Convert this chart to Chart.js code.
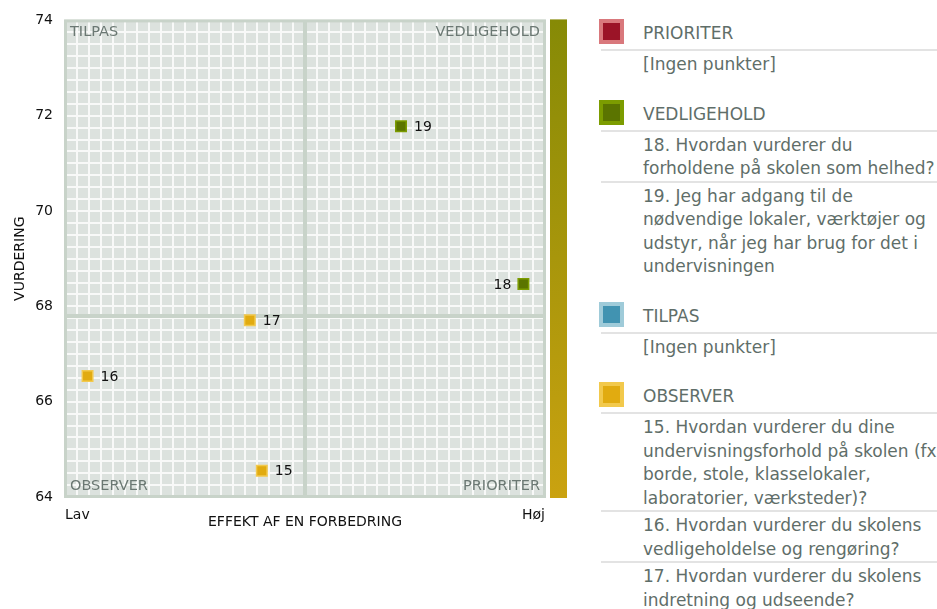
<!DOCTYPE html>
<html>
<head>
<meta charset="utf-8">
<script src="https://cdn.jsdelivr.net/npm/chart.js@4.4.1/dist/chart.umd.min.js"></script>
<style>
  body { margin: 0; width: 937px; height: 609px; overflow: hidden; background: #fff; font-family: "DejaVu Sans", sans-serif; }
  #chartBox { position: absolute; left: 0; top: 0; width: 580px; height: 609px; }
  #legend { position: absolute; left: 599px; top: 14px; width: 360px; color: #5f6e69; font-size: 17px; }
  .grp { margin-bottom: 18px; }
  .head { height: 35px; display: flex; align-items: center; border-bottom: 2px solid #e3e3e3; margin-left: 2px; }
  .head span { padding-top: 3px; }
  .sw { width: 17px; height: 17px; border: 4px solid; margin-left: -2px; margin-right: 19px; }
  .item { padding: 2px 0 0 42px; line-height: 23.5px; white-space: pre; border-bottom: 2px solid #e3e3e3; margin-left: 2px; }
  .item:last-child { border-bottom: none; }
</style>
</head>
<body>

<div id="chartBox"><canvas id="myChart" width="580" height="609"></canvas></div>
<div id="legend"></div>

<script>
// data
const questionNo = [15, 16, 17, 18, 19];
const effekt = [41, 4.7, 38.5, 95.5, 70];          // 0 = Lav, 100 = Høj
const vurdering = [64.55, 66.54, 67.71, 68.47, 71.78];
const questionText = [
  "15. Hvordan vurderer du dine\nundervisningsforhold på skolen (fx\nborde, stole, klasselokaler,\nlaboratorier, værksteder)?",
  "16. Hvordan vurderer du skolens\nvedligeholdelse og rengøring?",
  "17. Hvordan vurderer du skolens\nindretning og udseende?",
  "18. Hvordan vurderer du\nforholdene på skolen som helhed?",
  "19. Jeg har adgang til de\nnødvendige lokaler, værktøjer og\nudstyr, når jeg har brug for det i\nundervisningen"
];
const groups = ["PRIORITER", "VEDLIGEHOLD", "TILPAS", "OBSERVER"];
const xTickLabels = ["Lav", "Høj"];
const xMin = 0, xMax = 100, xSplit = 50;
const yMin = 64, yMax = 74, ySplit = 67.8;
const emptyText = "[Ingen punkter]";

const colors = {
  PRIORITER:   { fill: "#9b1427", edge: "#d9787c" },
  VEDLIGEHOLD: { fill: "#5b7400", edge: "#7c9c00" },
  TILPAS:      { fill: "#4193b1", edge: "#9fcbd9" },
  OBSERVER:    { fill: "#e1ab10", edge: "#f2c94c" }
};

function groupOf(i) {
  const hi = effekt[i] >= xSplit, up = vurdering[i] >= ySplit;
  if (hi && up) return "VEDLIGEHOLD";
  if (hi) return "PRIORITER";
  if (up) return "TILPAS";
  return "OBSERVER";
}

// legend
const legend = document.getElementById("legend");
groups.forEach(g => {
  const idx = questionNo.map((n, i) => i).filter(i => groupOf(i) === g);
  let html = '<div class="grp"><div class="head"><div class="sw" style="background:' + colors[g].fill +
    ';border-color:' + colors[g].edge + '"></div><span>' + g + '</span></div>';
  if (idx.length === 0) html += '<div class="item">' + emptyText + '</div>';
  idx.forEach(i => { html += '<div class="item">' + questionText[i] + '</div>'; });
  legend.innerHTML += html + '</div>';
});

Chart.defaults.font.family = '"DejaVu Sans", sans-serif';
Chart.defaults.font.size = 14;

const datasets = groups.map(g => {
  const idx = questionNo.map((n, i) => i).filter(i => groupOf(i) === g);
  return {
    label: g,
    data: idx.map(i => ({ x: effekt[i], y: vurdering[i] })),
    nums: idx.map(i => questionNo[i]),
    pointStyle: "rect",
    pointRadius: 7.4,
    borderWidth: 1.5,
    backgroundColor: colors[g].fill,
    borderColor: colors[g].edge
  };
});

const quadrants = {
  id: "quadrants",
  beforeDraw(chart) {
    const { ctx, chartArea: a } = chart;
    ctx.save();
    ctx.fillStyle = "#dce2de";
    ctx.fillRect(a.left, a.top, a.width, a.height);
    const grad = ctx.createLinearGradient(0, a.top, 0, a.bottom);
    grad.addColorStop(0, "#868a06");
    grad.addColorStop(1, "#caa210");
    ctx.fillStyle = grad;
    ctx.fillRect(a.right + 5, a.top - 1, 17, a.height + 2);
    ctx.restore();
  },
  beforeDatasetsDraw(chart) {
    const { ctx, chartArea: a, scales } = chart;
    ctx.save();
    ctx.strokeStyle = "#c8d3c9";
    ctx.lineWidth = 3;
    ctx.strokeRect(a.left + 0.5, a.top + 0.5, a.width - 1, a.height - 1);
    ctx.lineWidth = 4;
    const mx = scales.x.getPixelForValue(xSplit), my = scales.y.getPixelForValue(ySplit);
    ctx.beginPath();
    ctx.moveTo(mx, a.top); ctx.lineTo(mx, a.bottom);
    ctx.moveTo(a.left, my); ctx.lineTo(a.right, my);
    ctx.stroke();
    ctx.fillStyle = "#6b7873";
    ctx.font = '14.5px "DejaVu Sans"';
    ctx.textBaseline = "middle";
    ctx.textAlign = "left";
    ctx.fillText(groups[2], a.left + 5, a.top + 12);
    ctx.fillText(groups[3], a.left + 5, a.bottom - 11);
    ctx.textAlign = "right";
    ctx.fillText(groups[1], a.right - 5, a.top + 12);
    ctx.fillText(groups[0], a.right - 5, a.bottom - 11);
    ctx.restore();
  },
  afterDatasetsDraw(chart) {
    const { ctx, chartArea: a } = chart;
    ctx.save();
    ctx.fillStyle = "#111";
    ctx.font = '14px "DejaVu Sans"';
    ctx.textBaseline = "middle";
    chart.data.datasets.forEach((ds, d) => {
      chart.getDatasetMeta(d).data.forEach((pt, i) => {
        if (pt.x > a.right - 60) {
          ctx.textAlign = "right";
          ctx.fillText(ds.nums[i], pt.x - 12, pt.y + 1);
        } else {
          ctx.textAlign = "left";
          ctx.fillText(ds.nums[i], pt.x + 13, pt.y + 1);
        }
      });
    });
    ctx.restore();
  }
};

const myChart = new Chart("myChart", {
  type: "scatter",
  data: { datasets: datasets },
  plugins: [quadrants],
  options: {
    responsive: false,
    animation: false,
    events: [],
    layout: { padding: { top: 20, right: 35, bottom: 72, left: 0 } },
    plugins: { legend: { display: false }, tooltip: { enabled: false } },
    scales: {
      x: {
        type: "linear", min: xMin, max: xMax,
        afterFit(s) { s.height = 40; },
        border: { display: false },
        grid: { color: "#f8f9f8", lineWidth: 2, drawTicks: false },
        ticks: {
          stepSize: 2.5, autoSkip: false, maxRotation: 0, align: "inner", padding: 10, color: "#111",
          callback(v) { return v === xMin ? xTickLabels[0] : (v === xMax ? xTickLabels[1] : ""); }
        },
        title: { display: true, text: "EFFEKT AF EN FORBEDRING", color: "#111", padding: { top: 0, bottom: 6 } }
      },
      y: {
        min: yMin, max: yMax,
        afterFit(s) { s.width = 65; },
        border: { display: false },
        grid: { color: "#f8f9f8", lineWidth: 2, drawTicks: false },
        ticks: {
          stepSize: 0.25, autoSkip: false, padding: 12, color: "#111",
          callback(v) {
            const r = Math.round(v);
            return (Math.abs(v - r) < 1e-6 && r % 2 === 0) ? r : "";
          }
        },
        title: { display: true, text: "VURDERING", color: "#111", padding: { top: 11.6, bottom: 0 } }
      }
    }
  }
});
</script>

</body>
</html>
